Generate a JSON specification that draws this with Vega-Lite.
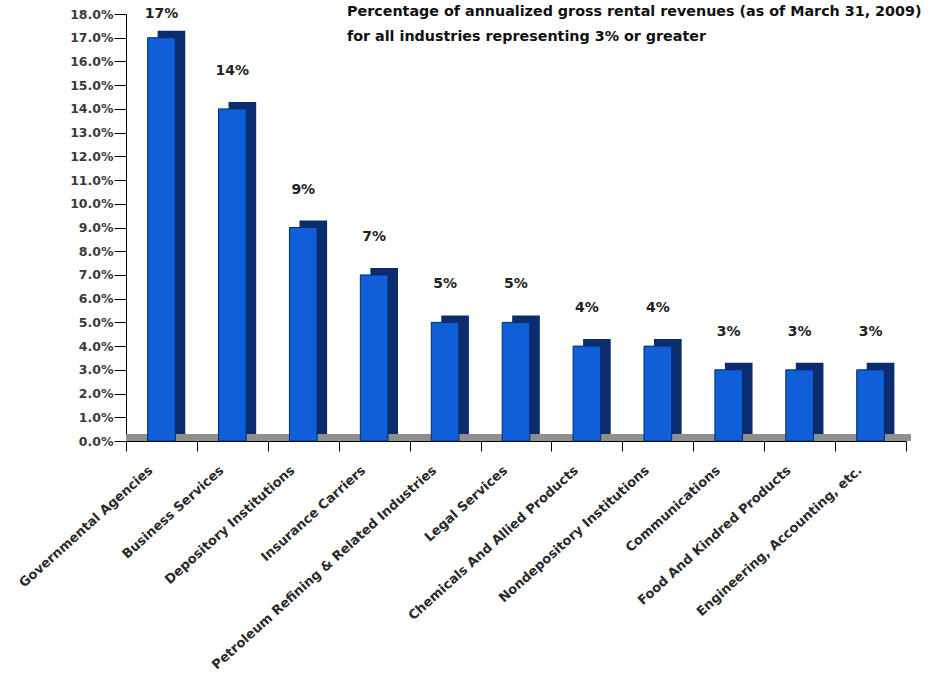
{
  "$schema": "https://vega.github.io/schema/vega-lite/v6.json",
  "autosize": {"type": "none"},
  "padding": {"left": 126, "top": 14, "right": 23, "bottom": 242},
  "width": 780,
  "height": 427,
  "background": "#ffffff",
  "config": {"view": {"stroke": null}, "font": "DejaVu Sans"},
  "title": {
    "text": ["Percentage of annualized gross rental revenues (as of March 31, 2009)", "for all industries representing 3% or greater"],
    "anchor": "start",
    "frame": "group",
    "orient": "top",
    "align": "left",
    "baseline": "top",
    "dx": 221,
    "dy": 38,
    "offset": 0,
    "font": "DejaVu Sans",
    "fontSize": 14.3,
    "fontWeight": "bold",
    "lineHeight": 25,
    "color": "#111111"
  },
  "data": {
    "values": [
      {"industry": "Governmental Agencies", "pct": 17, "label": "17%"},
      {"industry": "Business Services", "pct": 14, "label": "14%"},
      {"industry": "Depository Institutions", "pct": 9, "label": "9%"},
      {"industry": "Insurance Carriers", "pct": 7, "label": "7%"},
      {"industry": "Petroleum Refining & Related Industries", "pct": 5, "label": "5%"},
      {"industry": "Legal Services", "pct": 5, "label": "5%"},
      {"industry": "Chemicals And Allied Products", "pct": 4, "label": "4%"},
      {"industry": "Nondepository Institutions", "pct": 4, "label": "4%"},
      {"industry": "Communications", "pct": 3, "label": "3%"},
      {"industry": "Food And Kindred Products", "pct": 3, "label": "3%"},
      {"industry": "Engineering, Accounting, etc.", "pct": 3, "label": "3%"}
    ]
  },
  "encoding": {
    "x": {
      "field": "industry",
      "type": "nominal",
      "sort": null,
      "scale": {"paddingInner": 0, "paddingOuter": 0},
      "axis": {
        "title": null,
        "domainColor": "#000000",
        "tickColor": "#000000",
        "tickSize": 10,
        "tickBand": "extent",
        "labelAngle": -42,
        "labelAlign": "right",
        "labelBaseline": "middle",
        "labelPadding": 17,
        "labelOffset": -11,
        "labelFontSize": 13,
        "labelFontWeight": "bold",
        "labelColor": "#2a2a2a",
        "labelLimit": 400
      }
    },
    "y": {
      "field": "pct",
      "type": "quantitative",
      "scale": {"domain": [0, 18], "nice": false},
      "axis": {
        "title": null,
        "values": [0,1,2,3,4,5,6,7,8,9,10,11,12,13,14,15,16,17,18],
        "labelExpr": "format(datum.value, '.1f') + '%'",
        "labelOverlap": false,
        "grid": false,
        "domainColor": "#000000",
        "tickColor": "#000000",
        "tickSize": 12,
        "labelPadding": 1,
        "labelFontSize": 12.5,
        "labelFontWeight": "bold",
        "labelColor": "#3a3a3a"
      }
    }
  },
  "layer": [
    {
      "mark": {"type": "rule", "color": "#8f8f8f", "strokeWidth": 7, "yOffset": -3.5, "xOffset": 5},
      "encoding": {"y": {"datum": 0, "type": "quantitative"}, "x": null}
    },
    {
      "mark": {"type": "bar", "color": "#0b2d6e", "xOffset": 10, "yOffset": -7, "width": {"band": 0.39}}
    },
    {
      "mark": {"type": "bar", "color": "#0e5fd8", "stroke": "#082a66", "strokeWidth": 1, "width": {"band": 0.39}}
    },
    {
      "transform": [{"filter": "datum.pct < 17"}],
      "mark": {"type": "text", "dy": -38, "baseline": "middle", "fontSize": 14, "fontWeight": "bold", "color": "#222222"},
      "encoding": {"text": {"field": "label"}}
    },
    {
      "transform": [{"filter": "datum.pct >= 17"}],
      "mark": {"type": "text", "dy": -24, "baseline": "middle", "fontSize": 14, "fontWeight": "bold", "color": "#222222"},
      "encoding": {"text": {"field": "label"}}
    }
  ]
}
